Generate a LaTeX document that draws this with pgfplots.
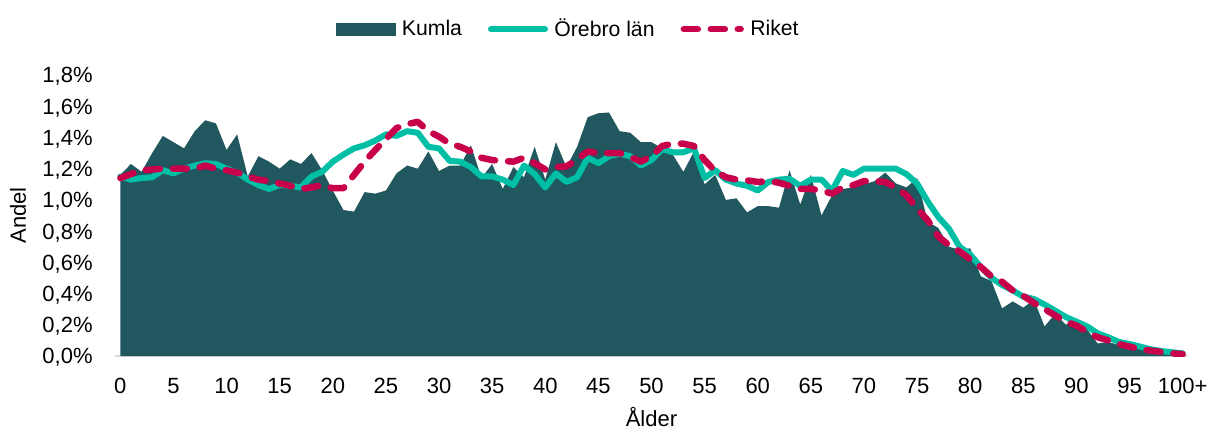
\documentclass[border=0pt]{standalone}
\usepackage{fontspec}
\setmainfont{Liberation Sans}
\usepackage{pgfplots}
\pgfplotsset{compat=1.18}
\definecolor{kumla}{RGB}{33,87,94}
\definecolor{orebro}{RGB}{0,191,165}
\definecolor{riket}{RGB}{200,0,75}
\begin{document}
\begin{tikzpicture}[font=\fontsize{11}{13}\selectfont]
\useasboundingbox (-57.5pt,-37pt) rectangle (548pt,178pt);
\begin{axis}[
  at={(0pt,0pt)}, anchor=south west,
  scale only axis, width=536.5pt, height=140.5pt,
  xmin=-0.5, xmax=100.5, ymin=0, ymax=1.8,
  /pgf/number format/assume math mode=true,
  axis x line*=bottom, axis y line*=left,
  x axis line style={draw=black!15, line width=0.8pt, -},
  y axis line style={draw=none},
  major tick length=0pt, tick style={draw=none},
  xtick={0,5,10,15,20,25,30,35,40,45,50,55,60,65,70,75,80,85,90,95,100},
  xticklabels={0,5,10,15,20,25,30,35,40,45,50,55,60,65,70,75,80,85,90,95,100+},
  ytick={0,0.2,0.4,0.6,0.8,1.0,1.2,1.4,1.6,1.8},
  yticklabels={{0,0\%},{0,2\%},{0,4\%},{0,6\%},{0,8\%},{1,0\%},{1,2\%},{1,4\%},{1,6\%},{1,8\%}},
  xticklabel style={anchor=center, inner sep=0pt, yshift=-15pt},
  yticklabel style={anchor=base east, inner sep=0pt, xshift=-11pt, yshift=-3.95pt},
  xlabel={Ålder}, ylabel={Andel},
  xlabel style={at={(axis description cs:0.5,0)}, anchor=center, yshift=-30.5pt},
  ylabel style={at={(axis description cs:-0.0904,0.5)}, anchor=center},
  legend columns=-1,
  legend style={at={(axis description cs:0.4213,1.163)}, anchor=center, draw=none, fill=none,
    font=\fontsize{10.6}{12}\selectfont,
    nodes={inner sep=0pt},
    /tikz/every odd column/.append style={column sep=3.2pt},
    /tikz/every even column/.append style={column sep=13pt}},
]
\addplot[fill=kumla, draw=none,
  legend image code/.code={\fill[kumla] (0pt,-3.2pt) rectangle (30pt,3.2pt);}]
table {
0 1.16
1 1.23
2 1.18
3 1.30
4 1.41
5 1.37
6 1.33
7 1.44
8 1.51
9 1.49
10 1.32
11 1.42
12 1.15
13 1.28
14 1.245
15 1.20
16 1.26
17 1.23
18 1.30
19 1.19
20 1.06
21 0.935
22 0.925
23 1.05
24 1.04
25 1.06
26 1.17
27 1.22
28 1.20
29 1.31
30 1.185
31 1.22
32 1.22
33 1.35
34 1.14
35 1.23
36 1.07
37 1.21
38 1.145
39 1.34
40 1.13
41 1.37
42 1.21
43 1.34
44 1.53
45 1.555
46 1.56
47 1.44
48 1.43
49 1.37
50 1.37
51 1.33
52 1.29
53 1.18
54 1.31
55 1.10
56 1.16
57 1.00
58 1.01
59 0.92
60 0.96
61 0.96
62 0.95
63 1.19
64 0.97
65 1.16
66 0.90
67 1.03
68 1.07
69 1.08
70 1.10
71 1.12
72 1.175
73 1.105
74 1.08
75 1.14
76 0.86
77 0.82
78 0.70
79 0.68
80 0.69
81 0.51
82 0.48
83 0.305
84 0.35
85 0.31
86 0.36
87 0.19
88 0.27
89 0.20
90 0.24
91 0.17
92 0.08
93 0.09
94 0.07
95 0.055
96 0.045
97 0.035
98 0.02
99 0.015
100 0.01
} \closedcycle;
\addlegendentry{Kumla}
\addplot[orebro, line width=3pt, line join=round, line cap=round,
  legend image code/.code={\draw[orebro, line width=3pt, line cap=round] (1.5pt,0pt) -- (28.5pt,0pt);}]
table {
0 1.15
1 1.13
2 1.14
3 1.145
4 1.19
5 1.17
6 1.20
7 1.22
8 1.235
9 1.23
10 1.20
11 1.175
12 1.13
13 1.095
14 1.07
15 1.095
16 1.09
17 1.08
18 1.15
19 1.18
20 1.245
21 1.29
22 1.33
23 1.35
24 1.38
25 1.42
26 1.41
27 1.44
28 1.43
29 1.34
30 1.33
31 1.25
32 1.245
33 1.21
34 1.15
35 1.15
36 1.13
37 1.095
38 1.22
39 1.165
40 1.08
41 1.17
42 1.115
43 1.145
44 1.27
45 1.235
46 1.28
47 1.295
48 1.28
49 1.22
50 1.255
51 1.325
52 1.305
53 1.305
54 1.33
55 1.14
56 1.19
57 1.13
58 1.105
59 1.09
60 1.06
61 1.115
62 1.13
63 1.135
64 1.09
65 1.13
66 1.13
67 1.06
68 1.185
69 1.16
70 1.20
71 1.20
72 1.20
73 1.20
74 1.165
75 1.105
76 0.99
77 0.89
78 0.815
79 0.70
80 0.65
81 0.57
82 0.50
83 0.455
84 0.42
85 0.38
86 0.365
87 0.33
88 0.29
89 0.25
90 0.22
91 0.19
92 0.145
93 0.12
94 0.09
95 0.077
96 0.06
97 0.043
98 0.032
99 0.024
100 0.017
};
\addlegendentry{Örebro län}
\addplot[riket, line width=3.25pt, line join=round, line cap=round, dash pattern=on 7pt off 6.5pt,
  legend image code/.code={\draw[riket, line width=3.25pt, line cap=round, dash pattern=on 7pt off 6.5pt] (1.6pt,0pt) -- (30pt,0pt);}]
table {
0 1.14
1 1.165
2 1.19
3 1.195
4 1.20
5 1.20
6 1.20
7 1.20
8 1.22
9 1.20
10 1.19
11 1.175
12 1.15
13 1.13
14 1.12
15 1.105
16 1.09
17 1.07
18 1.08
19 1.095
20 1.075
21 1.075
22 1.16
23 1.245
24 1.32
25 1.39
26 1.46
27 1.485
28 1.50
29 1.44
30 1.405
31 1.36
32 1.34
33 1.31
34 1.27
35 1.255
36 1.25
37 1.245
38 1.27
39 1.235
40 1.195
41 1.21
42 1.215
43 1.26
44 1.31
45 1.30
46 1.30
47 1.30
48 1.275
49 1.245
50 1.28
51 1.345
52 1.36
53 1.36
54 1.345
55 1.255
56 1.185
57 1.145
58 1.13
59 1.125
60 1.115
61 1.12
62 1.11
63 1.09
64 1.07
65 1.07
66 1.06
67 1.04
68 1.08
69 1.095
70 1.12
71 1.12
72 1.115
73 1.08
74 1.03
75 0.945
76 0.87
77 0.765
78 0.71
79 0.67
80 0.62
81 0.57
82 0.51
83 0.475
84 0.42
85 0.385
86 0.34
87 0.30
88 0.26
89 0.22
90 0.195
91 0.155
92 0.12
93 0.10
94 0.077
95 0.06
96 0.045
97 0.034
98 0.026
99 0.017
100 0.012
};
\addlegendentry{Riket}
\end{axis}
\end{tikzpicture}
\end{document}
